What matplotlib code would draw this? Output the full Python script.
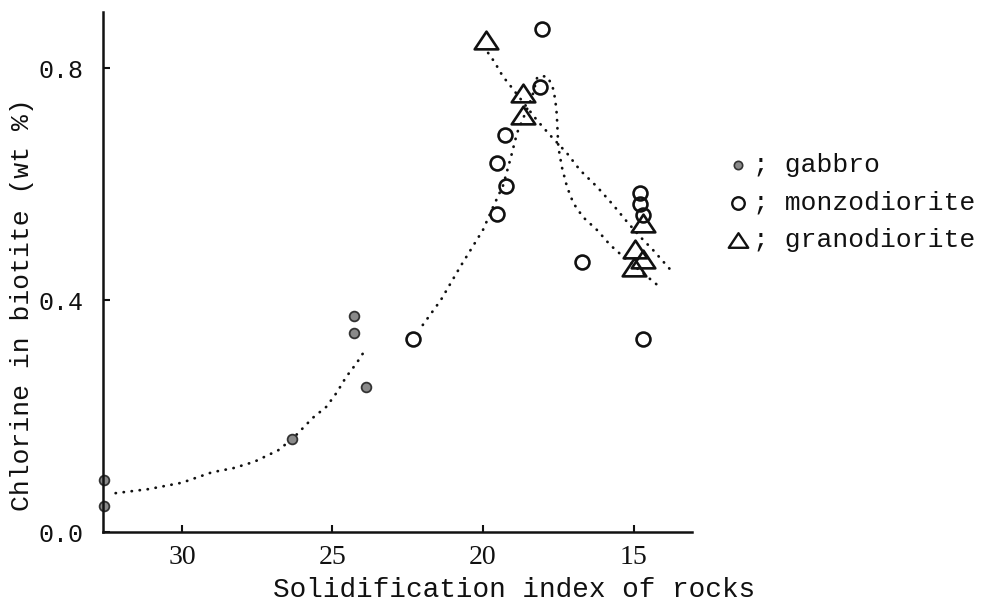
import matplotlib
matplotlib.use('Agg')
import matplotlib.pyplot as plt
from matplotlib.path import Path

# solidification index (x) and Cl in biotite, wt % (y)
gabbro_si = [32.6, 32.6, 26.35, 24.3, 24.3, 23.9]
gabbro_cl = [0.090, 0.045, 0.160, 0.372, 0.343, 0.250]

monzo_si = [22.33, 14.68, 18.04, 18.10, 19.27, 19.53, 19.24, 19.53, 16.71,
            14.78, 14.78, 14.70]
monzo_cl = [0.333, 0.333, 0.867, 0.767, 0.684, 0.636, 0.597, 0.548, 0.466,
            0.584, 0.566, 0.547]

grano_si = [19.90, 18.67, 18.67, 14.68, 14.95, 14.68, 14.98]
grano_cl = [0.848, 0.757, 0.719, 0.533, 0.488, 0.471, 0.457]

# hand drawn trend lines
gabbro_trend_si = [32.2, 31.1, 30.0, 29.0, 28.3, 27.6, 26.8, 26.3, 25.65,
                   25.2, 24.85, 24.55, 24.2, 23.9]
gabbro_trend_cl = [0.067, 0.074, 0.085, 0.103, 0.110, 0.121, 0.141, 0.162,
                   0.197, 0.216, 0.241, 0.267, 0.291, 0.315]

monzo_trend_si = [22.0, 21.4, 20.76, 20.0, 19.67, 19.33, 19.07, 18.87, 18.37,
                  18.2, 18.0, 17.84, 17.67, 17.6, 17.55, 17.5, 17.38, 17.21,
                  17.0, 16.68, 16.2, 15.78, 15.22, 14.68, 14.12]
monzo_trend_cl = [0.357, 0.400, 0.457, 0.521, 0.560, 0.598, 0.647, 0.688,
                  0.750, 0.784, 0.786, 0.784, 0.764, 0.745, 0.720, 0.664,
                  0.629, 0.595, 0.567, 0.543, 0.520, 0.495, 0.469, 0.446,
                  0.422]

grano_trend_si = [19.83, 19.6, 19.43, 19.27, 19.04, 18.21, 17.77, 17.21,
                  16.78, 16.21, 15.68, 15.22, 14.78, 14.35, 13.79]
grano_trend_cl = [0.826, 0.809, 0.793, 0.781, 0.766, 0.710, 0.684, 0.653,
                  0.624, 0.595, 0.564, 0.535, 0.509, 0.486, 0.453]

x_ticks = [30, 25, 20, 15]
y_ticks = [0.0, 0.4, 0.8]

MONO = 'Liberation Mono'
INK = '#111111'

tri = Path([(-1, -0.75), (1, -0.75), (0, 0.75), (-1, -0.75)],
           [Path.MOVETO, Path.LINETO, Path.LINETO, Path.CLOSEPOLY])

fig = plt.figure(figsize=(9.91, 6.06), dpi=100)
ax = fig.add_axes([103 / 991, 74 / 606, 589 / 991, 520 / 606])

dots = dict(color=INK, lw=2.0, ls=(0, (0.1, 2.8)), dash_capstyle='round')
ax.plot(gabbro_trend_si, gabbro_trend_cl, **dots)
ax.plot(monzo_trend_si, monzo_trend_cl, **dots)
ax.plot(grano_trend_si, grano_trend_cl, **dots)

ax.plot(gabbro_si, gabbro_cl, 'o', ms=7, mfc='#8a8a8a', mec='#333333',
        mew=1.3, clip_on=False)
ax.plot(monzo_si, monzo_cl, 'o', ms=10, mfc='none', mec=INK, mew=1.9,
        clip_on=False)
ax.plot(grano_si, grano_cl, ls='none', marker=tri, ms=17, mfc='none',
        mec=INK, mew=1.9, clip_on=False)

ax.set_xlim(32.62, 13.06)
ax.set_ylim(0, 0.8966)
ax.set_xticks(x_ticks)
ax.set_xticklabels([str(t) for t in x_ticks], family='Liberation Serif',
                   fontsize=20)
ax.set_yticks(y_ticks)
ax.set_yticklabels(['{:.1f}'.format(t) for t in y_ticks], family=MONO,
                   fontsize=18)
ax.tick_params(direction='in', length=5, width=1.5, colors=INK)
ax.tick_params(axis='y', pad=14)
ax.tick_params(axis='x', pad=9)

for side in ('top', 'right'):
    ax.spines[side].set_visible(False)
for side in ('left', 'bottom'):
    ax.spines[side].set_linewidth(1.8)
    ax.spines[side].set_color(INK)

fig.text(514 / 991, 1 - 590 / 606, 'Solidification index of rocks',
         family=MONO, fontsize=20, ha='center', va='center', color=INK)
fig.text(22 / 991, 1 - 305 / 606, 'Chlorine in biotite (wt %)',
         family=MONO, fontsize=19, ha='center', va='center', rotation=90,
         color=INK)

# legend, drawn by hand like the original
legend_rows = [
    (165, dict(marker='o', ms=6, mfc='#8a8a8a', mec='#333333', mew=1.2),
     '; gabbro'),
    (203, dict(marker='o', ms=9, mfc='none', mec=INK, mew=1.7),
     '; monzodiorite'),
    (240, dict(marker=tri, ms=14, mfc='none', mec=INK, mew=1.7),
     '; granodiorite'),
]
for y_px, style, label in legend_rows:
    ax.plot([738 / 991], [1 - y_px / 606], transform=fig.transFigure,
            clip_on=False, ls='none', **style)
    fig.text(753 / 991, 1 - y_px / 606, label, family=MONO, fontsize=19,
             ha='left', va='center', color=INK)

fig.savefig('out.png', dpi=100)
